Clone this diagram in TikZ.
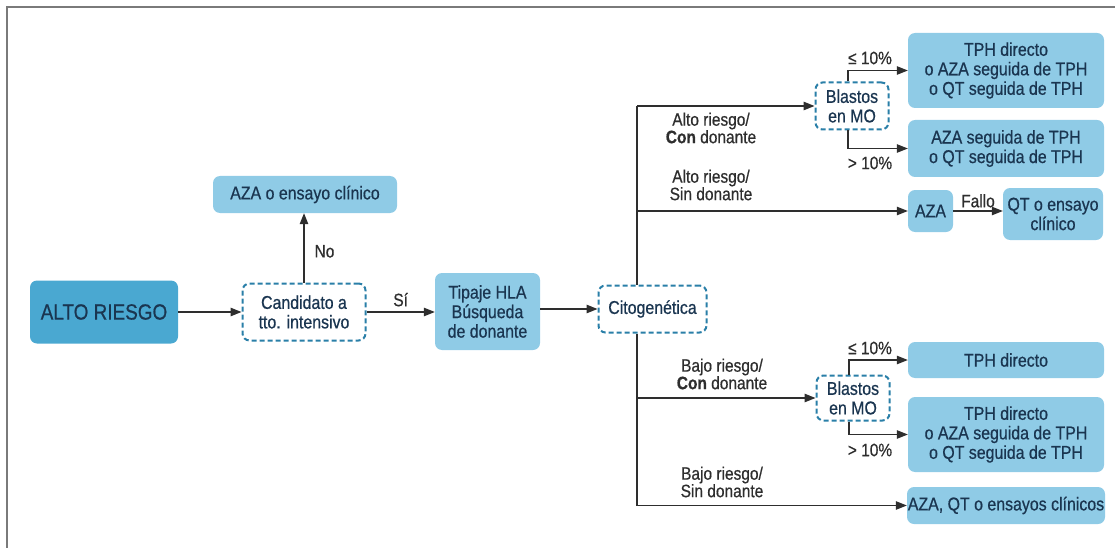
\documentclass[tikz,border=0pt]{standalone}
\usepackage{fontspec}
\setmainfont{Liberation Sans}[FakeStretch=0.86, FakeBold=0.6]
\usetikzlibrary{arrows.meta}
\definecolor{lightbox}{HTML}{8FCBE6}
\definecolor{darkbox}{HTML}{4AA8D1}
\definecolor{navy}{HTML}{1A3550}
\definecolor{dashcol}{HTML}{2A7FA8}
\definecolor{conn}{HTML}{2E2E2E}
\definecolor{framecol}{HTML}{7A7A7A}
\tikzset{
  x=1pt,y=-1pt,
  every node/.style={font=\fontsize{18.5}{19.5}\selectfont, text=navy, align=center, inner sep=0pt},
  box/.style={fill=lightbox, rounded corners=7pt},
  darkbx/.style={fill=darkbox, rounded corners=7pt, font=\fontsize{22}{24}\selectfont},
  dashbx/.style={draw=dashcol, fill=white, line width=2pt, dash pattern=on 5pt off 3pt, rounded corners=7pt},
  lbl/.style={font=\fontsize{18}{17.5}\selectfont, text=conn},
  arr/.style={draw=conn, line width=1.2pt, -{Triangle[length=11pt,width=8.5pt]}},
  ln/.style={draw=conn, line width=1.2pt}
}
\begin{document}
\begin{tikzpicture}
\useasboundingbox (0,0) rectangle (1115,548);
\draw[framecol, line width=1.6pt] (7,548) -- (7,7) -- (1115,7);

% nodes
\node[darkbx, minimum width=148pt, minimum height=63pt] (alto) at (104,312) {ALTO RIESGO};
\node[dashbx, minimum width=123pt, minimum height=57pt] (cand) at (304,312) {Candidato a\\tto. intensivo};
\node[box, minimum width=184pt, minimum height=37pt] (azae) at (305,194.5) {AZA o ensayo clínico};
\node[box, minimum width=105pt, minimum height=77pt] (tip) at (487.5,311.5) {Tipaje HLA\\Búsqueda\\de donante};
\node[dashbx, minimum width=108pt, minimum height=47pt] (cito) at (652.5,309) {Citogenética};

\node[dashbx, minimum width=73pt, minimum height=47pt] (bl1) at (852,106) {Blastos\\en MO};
\node[box, minimum width=196pt, minimum height=75pt] (tph1) at (1006,70.5) {TPH directo\\o AZA seguida de TPH\\o QT seguida de TPH};
\node[box, minimum width=196pt, minimum height=57pt] (azas) at (1006,148.5) {AZA seguida de TPH\\o QT seguida de TPH};
\node[box, minimum width=45pt, minimum height=42pt] (aza) at (930.5,211) {AZA};
\node[box, minimum width=100pt, minimum height=52pt] (qt) at (1053,214) {QT o ensayo\\clínico};

\node[dashbx, minimum width=73pt, minimum height=45pt] (bl2) at (853,398) {Blastos\\en MO};
\node[box, minimum width=196pt, minimum height=36pt] (tph2) at (1006,360) {TPH directo};
\node[box, minimum width=196pt, minimum height=75pt] (tph3) at (1006,434.5) {TPH directo\\o AZA seguida de TPH\\o QT seguida de TPH};
\node[box, minimum width=198pt, minimum height=37pt] (azaqt) at (1006,505.5) {AZA, QT o ensayos clínicos};

% connectors left part
\draw[arr] (alto.east) -- (cand.west);
\draw[arr] (cand.north) -- (cand.north |- azae.south) node[pos=0.45, right=10pt, lbl] (no) {No};
\draw[arr] (cand.east) -- (cand.east -| tip.west) node[midway, above=5pt, lbl] (si) {Sí};
\draw[arr] (tip.east |- cito.west) -- (cito.west);

% trunk
\coordinate (vt) at (637,106);
\coordinate (vb) at (637,505.5);
\draw[ln] (cito.north -| vt) -- (vt);
\draw[ln] (cito.south -| vb) -- (vb);
\draw[arr] (vt) -- (bl1.west);
\draw[arr] (vt |- aza.west) -- (aza.west);
\draw[arr] (vt |- bl2.west) -- (bl2.west);
\draw[arr] (vb) -- (azaqt.west);
\draw[arr] (aza.east) -- (aza.east -| qt.west) node[midway, above=3pt, lbl] (fallo) {Fallo};

% blastos branches
\draw[arr] ([xshift=-4pt]bl1.north) |- (tph1.west);
\draw[arr] ([xshift=-4pt]bl1.south) |- (azas.west);
\draw[arr] ([xshift=-4pt]bl2.north) |- (tph2.west);
\draw[arr] ([xshift=-4pt]bl2.south) |- (tph3.west);

% labels
\node[lbl] (l1) at (711,128) {Alto riesgo/\\\textbf{Con} donante};
\node[lbl] (l2) at (711,185) {Alto riesgo/\\Sin donante};
\node[lbl] (l3) at (722,374) {Bajo riesgo/\\\textbf{Con} donante};
\node[lbl] (l4) at (722,482) {Bajo riesgo/\\Sin donante};
\node[lbl] (p1) at (870,58) {≤ 10\%};
\node[lbl] (p2) at (870,163) {> 10\%};
\node[lbl] (p3) at (870,348) {≤ 10\%};
\node[lbl] (p4) at (870,450) {> 10\%};
\end{tikzpicture}
\end{document}
